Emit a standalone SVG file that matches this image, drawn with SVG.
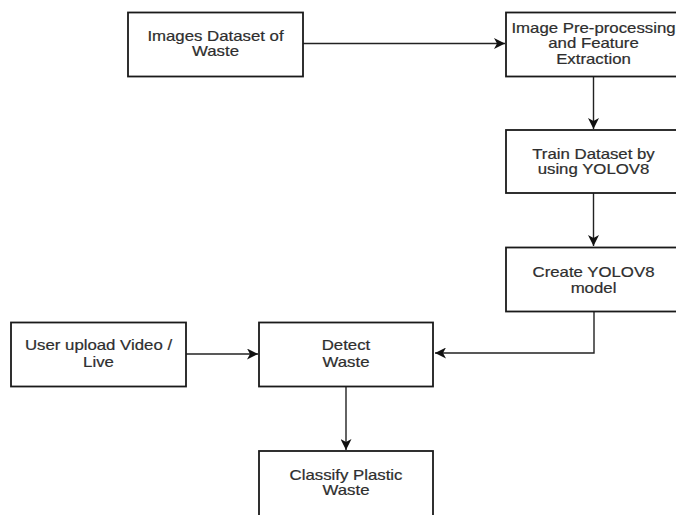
<svg xmlns="http://www.w3.org/2000/svg" width="676" height="515" viewBox="0 0 676 515">
<style>
.box{fill:#fff;stroke:#1a1a1a;stroke-width:1.8}
.lbl{font-family:"Liberation Sans",Arial,sans-serif;font-size:14px;fill:#2e2e2e;stroke:#2e2e2e;stroke-width:0.2;text-anchor:middle}
.con{fill:none;stroke:#222;stroke-width:1.4}
</style>
<defs>
<marker id="arr" markerUnits="userSpaceOnUse" markerWidth="13" markerHeight="11" refX="11" refY="5.5" orient="auto">
<path d="M0,0 L11,5.5 L0,11 L3,5.5 Z" fill="#111"/>
</marker>
</defs>
<rect width="676" height="515" fill="#fff"/>
<g id="connectors">
<path class="con" d="M303,43.5 H505" marker-end="url(#arr)"/>
<path class="con" d="M593.5,76 V129" marker-end="url(#arr)"/>
<path class="con" d="M593.5,193 V246" marker-end="url(#arr)"/>
<path class="con" d="M594,312 V353 H435" marker-end="url(#arr)"/>
<path class="con" d="M186,354 H258" marker-end="url(#arr)"/>
<path class="con" d="M346,387 V450" marker-end="url(#arr)"/>
</g>
<g id="n1">
<rect class="box" x="128" y="12.5" width="175" height="64"/>
<text class="lbl" transform="translate(215.5,0) scale(1.2,1)" y="41.5">Images Dataset of</text>
<text class="lbl" transform="translate(215.5,0) scale(1.2,1)" y="56.5">Waste</text>
</g>
<g id="n2">
<rect class="box" x="506" y="12.5" width="175" height="64"/>
<text class="lbl" transform="translate(593.5,0) scale(1.2,1)" y="33">Image Pre-processing</text>
<text class="lbl" transform="translate(593.5,0) scale(1.2,1)" y="48.5">and Feature</text>
<text class="lbl" transform="translate(593.5,0) scale(1.2,1)" y="64">Extraction</text>
</g>
<g id="n3">
<rect class="box" x="506" y="130" width="175" height="63"/>
<text class="lbl" transform="translate(593.5,0) scale(1.2,1)" y="159">Train Dataset by</text>
<text class="lbl" transform="translate(593.5,0) scale(1.2,1)" y="174.5">using YOLOV8</text>
</g>
<g id="n4">
<rect class="box" x="506" y="247.5" width="175" height="64"/>
<text class="lbl" transform="translate(593.5,0) scale(1.2,1)" y="277">Create YOLOV8</text>
<text class="lbl" transform="translate(593.5,0) scale(1.2,1)" y="293">model</text>
</g>
<g id="n5">
<rect class="box" x="11" y="322.5" width="175" height="64"/>
<text class="lbl" transform="translate(98.5,0) scale(1.2,1)" y="350.5">User upload Video /</text>
<text class="lbl" transform="translate(98.5,0) scale(1.2,1)" y="366.5">Live</text>
</g>
<g id="n6">
<rect class="box" x="259" y="322.5" width="174" height="64"/>
<text class="lbl" transform="translate(346,0) scale(1.2,1)" y="350.5">Detect</text>
<text class="lbl" transform="translate(346,0) scale(1.2,1)" y="366.5">Waste</text>
</g>
<g id="n7">
<rect class="box" x="259" y="451" width="174" height="66"/>
<text class="lbl" transform="translate(346,0) scale(1.2,1)" y="480">Classify Plastic</text>
<text class="lbl" transform="translate(346,0) scale(1.2,1)" y="495.5">Waste</text>
</g>
</svg>
